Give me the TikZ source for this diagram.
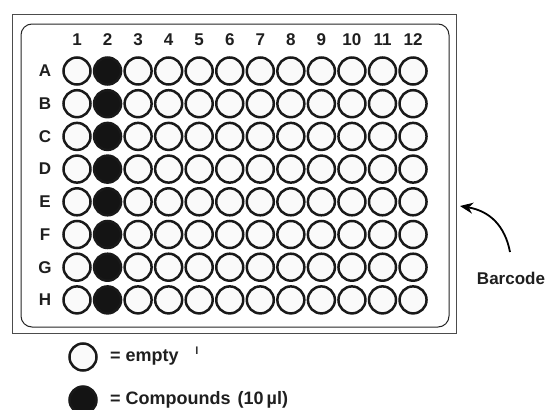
\documentclass[tikz,border=0pt]{standalone}
\usepackage{fontspec}
\setmainfont{Liberation Sans}
\usetikzlibrary{arrows.meta}
\begin{document}
\begin{tikzpicture}[x=1pt,y=-1pt,
  well/.style={circle,draw=black!90,line width=2.5pt,fill=black!2,minimum size=27pt,inner sep=0pt},
  fullwell/.style={well,fill=black!92},
  lbl/.style={font=\bfseries\fontsize{17}{17}\selectfont,inner sep=0pt,text=black!88},
  legtext/.style={font=\bfseries\fontsize{18}{18}\selectfont,inner sep=0pt,anchor=west,text=black!88},
  frame/.style={draw=black!70,line width=1pt}]
\useasboundingbox (0,0) rectangle (547,410);
\fill[white] (0,0) rectangle (547,410);
\draw[frame] (12,14) rectangle (456,333);
\draw[draw=black!85,line width=1pt,rounded corners=11pt] (21,24) rectangle (449,327);
% column labels
\foreach \c in {1,...,12}{
  \node[lbl] (col\c) at ({77+(\c-1)*30.55},40) {\c};
}
% rows
\foreach \r/\L in {1/A,2/B,3/C,4/D,5/E,6/F,7/G,8/H}{
  \node[lbl] (row\L) at (45,{71+(\r-1)*32.7}) {\L};
  \foreach \c in {1,...,12}{
    \ifnum\c=2
      \node[fullwell] (w\L\c) at ({77+(\c-1)*30.55},{71+(\r-1)*32.7}) {};
    \else
      \node[well] (w\L\c) at ({77+(\c-1)*30.55},{71+(\r-1)*32.7}) {};
    \fi
  }
}
% legend
\node[well] (legE) at (83,357) {};
\node[fullwell] (legF) at (83,400) {};
\node[legtext] (legEt) at (110,357) {= empty};
\node[legtext] (legFt) at (110,400) {= Compounds\hspace{7pt}(10\,µl)};
\node[font=\bfseries\fontsize{11}{11}\selectfont,inner sep=0pt,text=black!80] (tick) at (197,351) {I};
% barcode
\node[lbl] (barcode) at (511,278) {Barcode};
\coordinate (tip) at (460,206);
\coordinate (tail) at (510,252);
\draw[line width=1.8pt,-{Stealth[length=13pt,width=11pt]}] (tail) .. controls (505,226) and (490,211) .. (tip);
\end{tikzpicture}
\end{document}
